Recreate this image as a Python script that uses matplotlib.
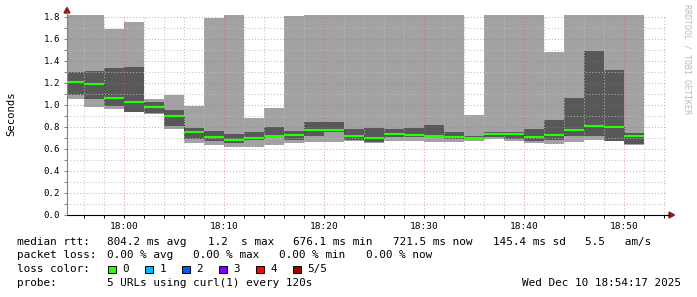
import pandas as pd
import matplotlib
matplotlib.use("Agg")
import matplotlib.pyplot as plt
import matplotlib.dates as mdates
from matplotlib.lines import Line2D
from matplotlib.patches import Polygon, Rectangle
from matplotlib.ticker import MultipleLocator, FormatStrFormatter

W, H = 697, 297

# smoke data: 2 minute bins, values in seconds (5 urls sorted: min, 2nd, median, 4th, max)
bin_start = pd.date_range("2025-12-10 17:54", periods=29, freq="2min")
graph_start = pd.Timestamp("2025-12-10 17:54:17")
graph_end = pd.Timestamp("2025-12-10 18:54:17")

rtt_min = [1.050, 0.985, 0.964, 0.935, 0.915, 0.785, 0.657, 0.640, 0.621, 0.621,
           0.636, 0.657, 0.667, 0.667, 0.672, 0.657, 0.673, 0.676, 0.667, 0.667,
           0.673, 0.694, 0.676, 0.652, 0.645, 0.664, 0.682, 0.670, 0.640]
rtt_lo = [1.090, 1.055, 0.990, 0.940, 0.925, 0.812, 0.690, 0.670, 0.652, 0.685,
          0.706, 0.680, 0.721, 0.755, 0.682, 0.664, 0.706, 0.706, 0.706, 0.694,
          0.691, 0.712, 0.688, 0.676, 0.682, 0.718, 0.718, 0.676, 0.645]
rtt_median = [1.212, 1.190, 1.064, 1.030, 0.985, 0.903, 0.755, 0.710, 0.679, 0.700,
              0.721, 0.730, 0.773, 0.773, 0.718, 0.703, 0.739, 0.730, 0.720, 0.712,
              0.703, 0.737, 0.736, 0.712, 0.730, 0.776, 0.812, 0.800, 0.7215]
rtt_hi = [1.303, 1.309, 1.336, 1.345, 1.030, 0.955, 0.792, 0.765, 0.736, 0.755,
          0.800, 0.767, 0.845, 0.845, 0.782, 0.791, 0.782, 0.794, 0.818, 0.755,
          0.718, 0.755, 0.755, 0.782, 0.864, 1.064, 1.490, 1.318, 0.742]
rtt_max = [1.950, 1.950, 1.690, 1.755, 1.055, 1.094, 0.990, 1.794, 1.950, 0.885,
           0.976, 1.810, 1.950, 1.950, 1.950, 1.950, 1.950, 1.950, 1.950, 1.950,
           0.909, 1.950, 1.950, 1.950, 1.485, 1.950, 1.950, 1.950, 1.950]

y_top = 1.818

loss_labels = ["0", "1", "2", "3", "4", "5/5"]
loss_colors = ["#26ff00", "#00b8ff", "#0059ff", "#7e00ff", "#ff0000", "#a10000"]

plt.rcParams["font.family"] = "DejaVu Sans Mono"

fig = plt.figure(figsize=(W / 100, H / 100), dpi=100)
fig.patch.set_facecolor("white")
ax = fig.add_axes([67 / W, (H - 215) / H, 600 / W, 200 / H])

edges = mdates.date2num(list(bin_start.to_pydatetime())
                        + [(bin_start[-1] + pd.Timedelta("2min")).to_pydatetime()])

# smoke
ax.stairs(rtt_max, edges, baseline=rtt_min, fill=True, color="#a2a2a2", lw=0, zorder=1)
ax.stairs(rtt_hi, edges, baseline=rtt_lo, fill=True, color="#585858", lw=0, zorder=1.1)
# median
ax.stairs(rtt_median, edges, baseline=None, color="#222222", lw=0.7, ls=":", zorder=2.8)
ax.hlines(rtt_median, edges[:-1], edges[1:], color="#26ff00", lw=1.5, zorder=3)

ax.set_xlim(mdates.date2num(graph_start.to_pydatetime()), mdates.date2num(graph_end.to_pydatetime()))
ax.set_ylim(0, y_top)

ax.yaxis.set_major_locator(MultipleLocator(0.2))
ax.yaxis.set_minor_locator(MultipleLocator(0.1))
ax.yaxis.set_major_formatter(FormatStrFormatter("%.1f"))
ax.xaxis.set_major_locator(mdates.MinuteLocator(byminute=range(0, 60, 10)))
ax.xaxis.set_minor_locator(mdates.MinuteLocator(byminute=range(0, 60, 2)))
ax.xaxis.set_major_formatter(mdates.DateFormatter("%H:%M"))

ax.set_axisbelow(False)
ax.grid(which="major", color="#d06060", alpha=0.55, lw=0.75, ls=(0, (1, 2)))
ax.grid(which="minor", color="#bdbdbd", alpha=0.9, lw=0.75, ls=(0, (1, 2)))

ax.tick_params(axis="y", which="both", direction="out", length=2.5, width=0.7,
               color="#808080", labelsize=6.6, pad=2.5)
ax.tick_params(axis="x", which="both", direction="out", length=2, width=0.7,
               color="black", labelsize=6.8, pad=3)

for s in ["top", "right"]:
    ax.spines[s].set_visible(False)
ax.spines["left"].set_color("#808080")
ax.spines["left"].set_linewidth(0.8)
ax.spines["bottom"].set_color("black")
ax.spines["bottom"].set_linewidth(0.8)


def fx(px):
    return px / W


def fy(py):
    return 1 - py / H


# axis arrows
fig.add_artist(Line2D([fx(67), fx(67)], [fy(15), fy(12)], color="#808080", lw=0.8))
fig.add_artist(Line2D([fx(667), fx(669)], [fy(215), fy(215)], color="black", lw=0.8))
fig.add_artist(Polygon([[fx(64), fy(13)], [fx(70), fy(13)], [fx(67), fy(7.5)]],
                       closed=True, color="#8b1a1a", transform=fig.transFigure))
fig.add_artist(Polygon([[fx(669), fy(212)], [fx(669), fy(218)], [fx(674.5), fy(215)]],
                       closed=True, color="#8b1a1a", transform=fig.transFigure))

fig.text(fx(11), fy(114), "Seconds", rotation=90, ha="center", va="center", fontsize=7.7)
fig.text(fx(687.5), fy(4), "RRDTOOL / TOBI OETIKER", rotation=270, ha="center", va="top",
         fontsize=6, color="#bbbbbb")

# legend
fs = 7.9
row_y = [242, 255.5, 269.3, 283]
row1 = [(16.7, "median rtt:"), (107.3, "804.2 ms avg"), (208, "1.2  s max"),
        (293, "676.1 ms min"), (393, "721.5 ms now"), (493, "145.4 ms sd"),
        (585, "5.5   am/s")]
row2 = [(16.7, "packet loss:"), (107.3, "0.00 % avg"), (193.3, "0.00 % max"),
        (279.3, "0.00 % min"), (365.5, "0.00 % now")]
for x, s in row1:
    fig.text(fx(x), fy(row_y[0]), s, fontsize=fs, va="center")
for x, s in row2:
    fig.text(fx(x), fy(row_y[1]), s, fontsize=fs, va="center")

fig.text(fx(16.7), fy(row_y[2]), "loss color:", fontsize=fs, va="center")
for i, (lab, col) in enumerate(zip(loss_labels, loss_colors)):
    x0 = 108.3 + i * 37
    fig.add_artist(Rectangle((fx(x0), fy(272.8)), 7.3 / W, 7.3 / H, facecolor=col,
                             edgecolor="black", lw=0.7, transform=fig.transFigure))
    fig.text(fx(x0 + 14.3), fy(row_y[2]), lab, fontsize=fs, va="center")

fig.text(fx(16.7), fy(row_y[3]), "probe:", fontsize=fs, va="center")
fig.text(fx(107.3), fy(row_y[3]), "5 URLs using curl(1) every 120s", fontsize=fs, va="center")
fig.text(fx(681), fy(row_y[3]), "Wed Dec 10 18:54:17 2025", fontsize=fs, va="center", ha="right")

fig.savefig("out.png", dpi=100)
